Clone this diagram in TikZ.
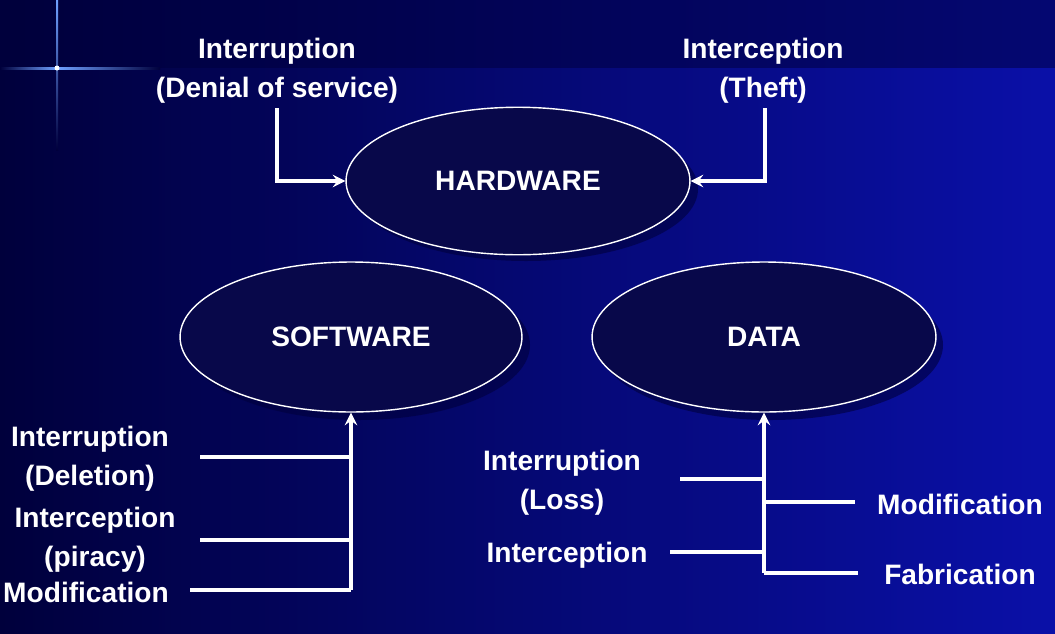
\documentclass[tikz,border=0pt]{standalone}
\usepackage{fontspec}
\setmainfont{Liberation Sans}
\usetikzlibrary{shapes.geometric}
\definecolor{bgdark}{HTML}{00003C}
\definecolor{bglight}{HTML}{0A10A8}
\definecolor{ellfill}{HTML}{08084A}
\definecolor{glow}{HTML}{6FA0FF}
\tikzset{
  asset/.style={draw=white, ellipse, fill=ellfill, thick, font=\bfseries\fontsize{16}{19}\selectfont, text=white,
    minimum width=6.88cm, minimum height=2.95cm},
  threat/.style={text=white, align=center, font=\bfseries\fontsize{16}{22}\selectfont, inner sep=0pt},
  link/.style={draw=white, line width=2.1pt}
}
\begin{document}
\begin{tikzpicture}[x=0.02cm, y=-0.02cm]
  % background
  \shade[left color=bgdark, right color=bglight] (0,0) rectangle (1055,633);
  \fill[bgdark, opacity=0.5] (0,0) rectangle (1055,68);
  \shade[top color=glow, bottom color=bgdark] (56,0) rectangle (58,150);
  \shade[left color=glow, right color=bgdark] (57,67) rectangle (160,69);
  \shade[left color=bgdark, right color=glow] (0,67) rectangle (57,69);
  \fill[white] (57,68) circle (2.5);

  % assets
  \fill[bgdark, opacity=0.6] (526,189) ellipse (172 and 72);
  \fill[bgdark, opacity=0.6] (359,345) ellipse (171 and 75);
  \fill[bgdark, opacity=0.6] (771,345) ellipse (172 and 75);
  \node[asset] (HW) at (518,181) {HARDWARE};
  \node[asset, minimum width=6.84cm, minimum height=3cm] (SW) at (351,337) {SOFTWARE};
  \node[asset, minimum height=3cm] (DT) at (764,337) {DATA};

  % hardware threats
  \node[threat] (H1) at (277,71) {Interruption\\(Denial of service)};
  \node[threat] (H2) at (763,71) {Interception\\(Theft)};
  \draw[link, ->, >=stealth] (277,108) |- (HW.west);
  \draw[link, ->, >=stealth] (765,108) |- (HW.east);

  % software threats
  \node[threat] (S1) at (90,459) {Interruption\\(Deletion)};
  \node[threat] (S2) at (95,540) {Interception\\(piracy)};
  \node[threat] (S3) at (86,592) {Modification};
  \coordinate (sb) at (351,590);
  \draw[link, ->, >=stealth] (sb) -- (SW.south);
  \draw[link] (200,457) -- (351,457);
  \draw[link] (200,540) -- (351,540);
  \draw[link] (190,590) -- (sb);

  % data threats
  \node[threat] (D1) at (562,483) {Interruption\\(Loss)};
  \node[threat] (D2) at (567,555) {Interception};
  \node[threat] (D3) at (960,504) {Modification};
  \node[threat] (D4) at (960,574) {Fabrication};
  \coordinate (db) at (764,573);
  \draw[link, ->, >=stealth] (db) -- (DT.south);
  \draw[link] (680,479) -- (764,479);
  \draw[link] (670,552) -- (764,552);
  \draw[link] (764,502) -- (855,502);
  \draw[link] (db) -- (858,573);
\end{tikzpicture}
\end{document}
